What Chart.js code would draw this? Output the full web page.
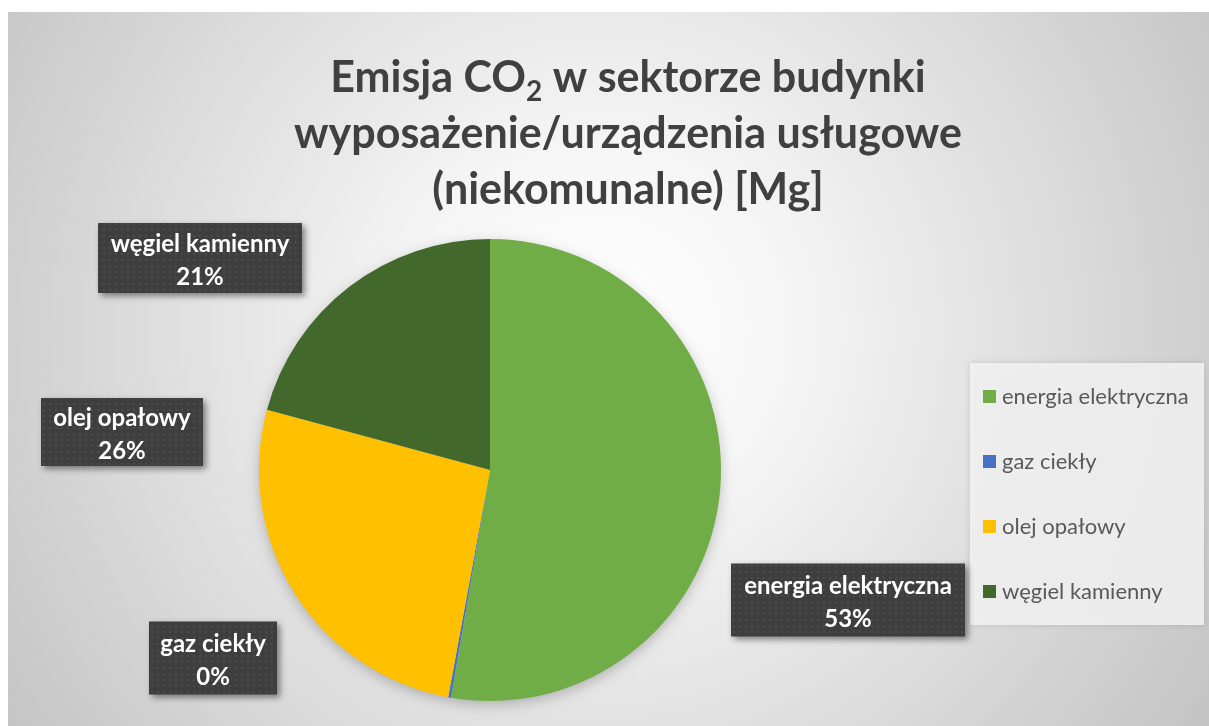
<!DOCTYPE html>
<html>
<head>
<meta charset="utf-8">
<script src="https://cdn.jsdelivr.net/npm/chart.js@4.4.1/dist/chart.umd.min.js"></script>
<style>
  html, body { margin: 0; padding: 0; background: #fff; }
  #wrap { width: 1209px; height: 726px; }
</style>
</head>
<body>
<div id="wrap"><canvas id="pie" width="1209" height="726"></canvas></div>
<script>
// data (shares, %)
var categories = ["energia elektryczna", "gaz ciekły", "olej opałowy", "węgiel kamienny"];
var shares = [52.7, 0.2, 26.3, 20.8];
var pctLabels = ["53%", "0%", "26%", "21%"];
var colors = ["#70ad47", "#4472c4", "#ffc000", "#43682b"];

var FONT = "Lato, 'Open Sans', sans-serif";

// where the dark label boxes sit (centre x, centre y, width, height)
var boxLayout = [
  [848, 600, 234, 73],
  [213, 658, 128, 73],
  [122, 432, 162, 68],
  [200, 258, 204, 70]
];

// dotted dark pattern for label boxes
var patCanvas = document.createElement("canvas");
patCanvas.width = 6; patCanvas.height = 6;
var pctx = patCanvas.getContext("2d");
pctx.fillStyle = "#3e3e3e";
pctx.fillRect(0, 0, 6, 6);
pctx.fillStyle = "#4c4c4c";
pctx.fillRect(1, 1, 2, 2);

var backgroundPlugin = {
  id: "bg",
  beforeDraw: function (chart) {
    var c = chart.ctx;
    c.save();
    c.fillStyle = "#ffffff";
    c.fillRect(0, 0, chart.width, chart.height);
    var g = c.createRadialGradient(600, 330, 0, 600, 330, 720);
    g.addColorStop(0, "#ffffff");
    g.addColorStop(0.25, "#f6f6f6");
    g.addColorStop(1, "#c4c4c4");
    c.fillStyle = g;
    c.fillRect(8, 12, chart.width - 8, chart.height - 12);
    // soft shadow under the pie
    var arc = chart.getDatasetMeta(0).data[0];
    if (arc) {
      c.shadowColor = "rgba(0,0,0,0.25)";
      c.shadowBlur = 14;
      c.shadowOffsetY = 4;
      c.beginPath();
      c.arc(arc.x, arc.y, arc.outerRadius - 1, 0, Math.PI * 2);
      c.fillStyle = "#dddddd";
      c.fill();
    }
    c.restore();
  }
};

function drawTitle(c) {
  c.save();
  c.fillStyle = "#404040";
  c.textBaseline = "alphabetic";
  var big = "bold 43px " + FONT;
  var small = "bold 28px " + FONT;
  var cx = 628;
  // line 1 with subscript 2
  var a = "Emisja CO", b = "2", d = " w sektorze budynki";
  c.font = big;
  var wa = c.measureText(a).width, wd = c.measureText(d).width;
  c.font = small;
  var wb = c.measureText(b).width;
  var x = cx - (wa + wb + wd) / 2;
  c.font = big; c.textAlign = "left";
  c.fillText(a, x, 92);
  c.font = small;
  c.fillText(b, x + wa, 101);
  c.font = big;
  c.fillText(d, x + wa + wb, 92);
  c.textAlign = "center";
  c.fillText("wyposażenie/urządzenia usługowe", cx, 148);
  c.fillText("(niekomunalne) [Mg]", cx, 204);
  c.restore();
}

function drawLegend(c) {
  c.save();
  c.shadowColor = "rgba(0,0,0,0.15)";
  c.shadowBlur = 6;
  c.fillStyle = "rgba(245,245,245,0.85)";
  c.fillRect(970, 363, 234, 262);
  c.shadowColor = "transparent";
  c.font = "22px " + FONT;
  c.textAlign = "left";
  c.textBaseline = "middle";
  for (var i = 0; i < categories.length; i++) {
    var y = 397 + i * 65;
    c.fillStyle = colors[i];
    c.fillRect(983, y - 7, 13, 13);
    c.fillStyle = "#595959";
    c.fillText(categories[i], 1002, y);
  }
  c.restore();
}

function drawLabels(c) {
  var pat = c.createPattern(patCanvas, "repeat");
  for (var i = 0; i < categories.length; i++) {
    var bx = boxLayout[i];
    var x0 = bx[0] - bx[2] / 2, y0 = bx[1] - bx[3] / 2;
    c.save();
    c.shadowColor = "rgba(0,0,0,0.45)";
    c.shadowBlur = 6;
    c.shadowOffsetX = 3;
    c.shadowOffsetY = 3;
    c.fillStyle = pat;
    c.fillRect(x0, y0, bx[2], bx[3]);
    c.restore();
    c.save();
    c.fillStyle = "#ffffff";
    c.font = "bold 24px " + FONT;
    c.textAlign = "center";
    c.textBaseline = "middle";
    c.fillText(categories[i], bx[0], bx[1] - 14);
    c.fillText(pctLabels[i], bx[0], bx[1] + 19);
    c.restore();
  }
}

var overlayPlugin = {
  id: "overlay",
  afterDraw: function (chart) {
    var c = chart.ctx;
    drawTitle(c);
    drawLegend(c);
    drawLabels(c);
  }
};

new Chart(document.getElementById("pie"), {
  type: "pie",
  data: {
    labels: categories,
    datasets: [{
      data: shares,
      backgroundColor: colors,
      borderWidth: 0
    }]
  },
  options: {
    responsive: false,
    animation: false,
    layout: {
      padding: { top: 239, bottom: 25, left: 259, right: 488 }
    },
    plugins: {
      legend: { display: false },
      title: { display: false },
      tooltip: { enabled: false }
    }
  },
  plugins: [backgroundPlugin, overlayPlugin]
});
</script>
</body>
</html>
